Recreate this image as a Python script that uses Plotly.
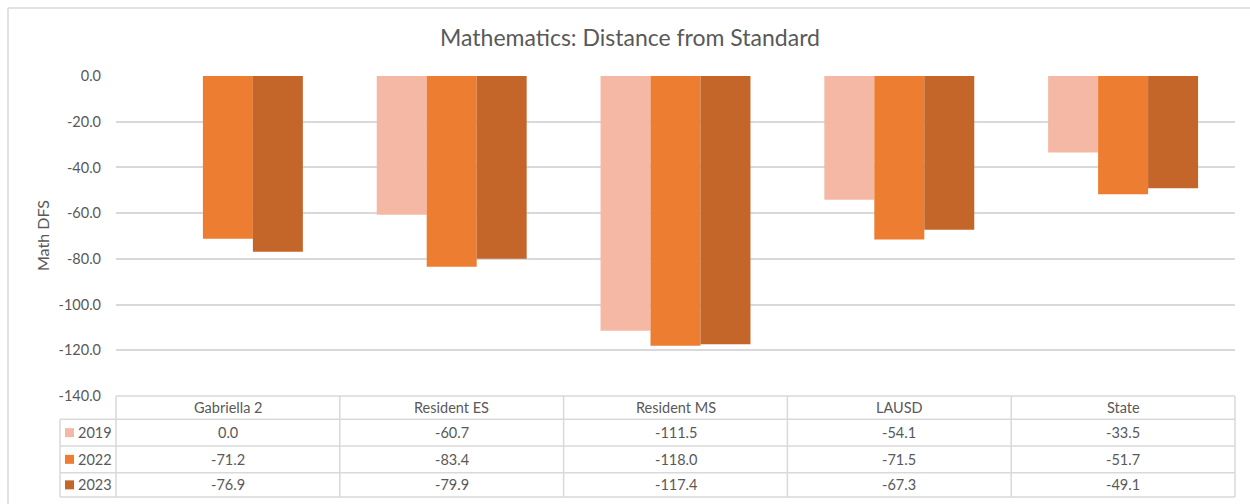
import plotly.graph_objects as go

# Categories and series values (Math DFS)
categories = ["Gabriella 2", "Resident ES", "Resident MS", "LAUSD", "State"]
years = ["2019", "2022", "2023"]
dfs_2019 = [0.0, -60.7, -111.5, -54.1, -33.5]
dfs_2022 = [-71.2, -83.4, -118.0, -71.5, -51.7]
dfs_2023 = [-76.9, -79.9, -117.4, -67.3, -49.1]
series = [dfs_2019, dfs_2022, dfs_2023]
colors = ["#F4B8A4", "#ED7D31", "#C4652A"]

y_ticks = [0, -20, -40, -60, -80, -100, -120, -140]

W, H = 1250, 504
ML, MR, MT, MB = 116, 15, 76, 108
PW = W - ML - MR
PH = H - MT - MB
TEXT = "#595959"
GRID = "#D9D9D9"
FONT = "Lato, 'Open Sans', sans-serif"
FS = 14.5


def px_x(p):
    """Pixel column -> paper x."""
    return (p - ML) / PW


def px_y(p):
    """Pixel row -> paper y."""
    return (H - MB - p) / PH


fig = go.Figure()
for yr, vals, col in zip(years, series, colors):
    fig.add_trace(go.Bar(
        x=categories, y=vals, name=yr,
        marker=dict(color=col, line=dict(width=0)),
        showlegend=False,
    ))

shapes = []
annotations = []

# Data table under the plot
n = len(categories)
row_edges = [H - MB, 419.3, 446.0, 472.7, 497.0]
legend_left = 60
line = dict(color=GRID, width=1.5)

# horizontal rules
shapes.append(dict(type="line", xref="paper", yref="paper",
                   x0=0, x1=1, y0=px_y(row_edges[0]), y1=px_y(row_edges[0]), line=line))
for r in row_edges[1:]:
    shapes.append(dict(type="line", xref="paper", yref="paper",
                       x0=px_x(legend_left), x1=1, y0=px_y(r), y1=px_y(r), line=line))
# vertical rules between categories
for i in range(n + 1):
    shapes.append(dict(type="line", xref="paper", yref="paper",
                       x0=i / n, x1=i / n, y0=px_y(row_edges[0]), y1=px_y(row_edges[-1]), line=line))
shapes.append(dict(type="line", xref="paper", yref="paper",
                   x0=px_x(legend_left), x1=px_x(legend_left),
                   y0=px_y(row_edges[1]), y1=px_y(row_edges[-1]), line=line))

row_mid = [(row_edges[k] + row_edges[k + 1]) / 2 for k in range(len(row_edges) - 1)]


def cell_text(text, x, y, xanchor="center"):
    return dict(text=text, xref="paper", yref="paper", x=x, y=y,
                xanchor=xanchor, yanchor="middle", showarrow=False,
                font=dict(size=FS, color=TEXT, family=FONT))


# header row: category names
for i, c in enumerate(categories):
    annotations.append(cell_text(c, (i + 0.5) / n, px_y(row_mid[0])))

# value rows with legend keys
for k, (yr, vals, col) in enumerate(zip(years, series, colors)):
    ym = row_mid[k + 1]
    shapes.append(dict(type="rect", xref="paper", yref="paper",
                       x0=px_x(65), x1=px_x(74), y0=px_y(ym - 4.5), y1=px_y(ym + 4.5),
                       fillcolor=col, line=dict(width=0)))
    annotations.append(cell_text(yr, px_x(76), px_y(ym), xanchor="left"))
    for i, v in enumerate(vals):
        annotations.append(cell_text(f"{v:.1f}", (i + 0.5) / n, px_y(ym)))

# axis title
annotations.append(dict(text="Math DFS", xref="paper", yref="paper",
                        x=px_x(42), y=0.5, xanchor="center", yanchor="middle",
                        textangle=-90, showarrow=False,
                        font=dict(size=16, color=TEXT, family=FONT)))

# chart frame
frame = dict(color=GRID, width=1.5)
shapes.append(dict(type="line", xref="paper", yref="paper",
                   x0=px_x(8), x1=px_x(W + 2), y0=px_y(8), y1=px_y(8), line=frame))
shapes.append(dict(type="line", xref="paper", yref="paper",
                   x0=px_x(8), x1=px_x(8), y0=px_y(8), y1=px_y(H + 2), line=frame))

fig.update_layout(
    width=W, height=H,
    margin=dict(l=ML, r=MR, t=MT, b=MB),
    paper_bgcolor="white", plot_bgcolor="white",
    barmode="group", bargap=0.33, bargroupgap=0,
    title=dict(text="Mathematics: Distance from Standard", x=0.504, xanchor="center",
               y=1 - 38 / H, yanchor="middle",
               font=dict(size=23, color=TEXT, family=FONT)),
    xaxis=dict(showticklabels=False, showgrid=False, zeroline=False, showline=False,
               range=[-0.5, n - 0.5]),
    yaxis=dict(range=[-140, 0], tickvals=y_ticks, ticktext=[f"{t:.1f}" for t in y_ticks],
               showgrid=True, gridcolor=GRID, gridwidth=1.5, zeroline=False, showline=False,
               ticks="", ticklabelstandoff=14,
               tickfont=dict(size=FS, color=TEXT, family=FONT)),
    shapes=shapes, annotations=annotations,
    font=dict(family=FONT, color=TEXT),
)

fig.write_html("out.html")
